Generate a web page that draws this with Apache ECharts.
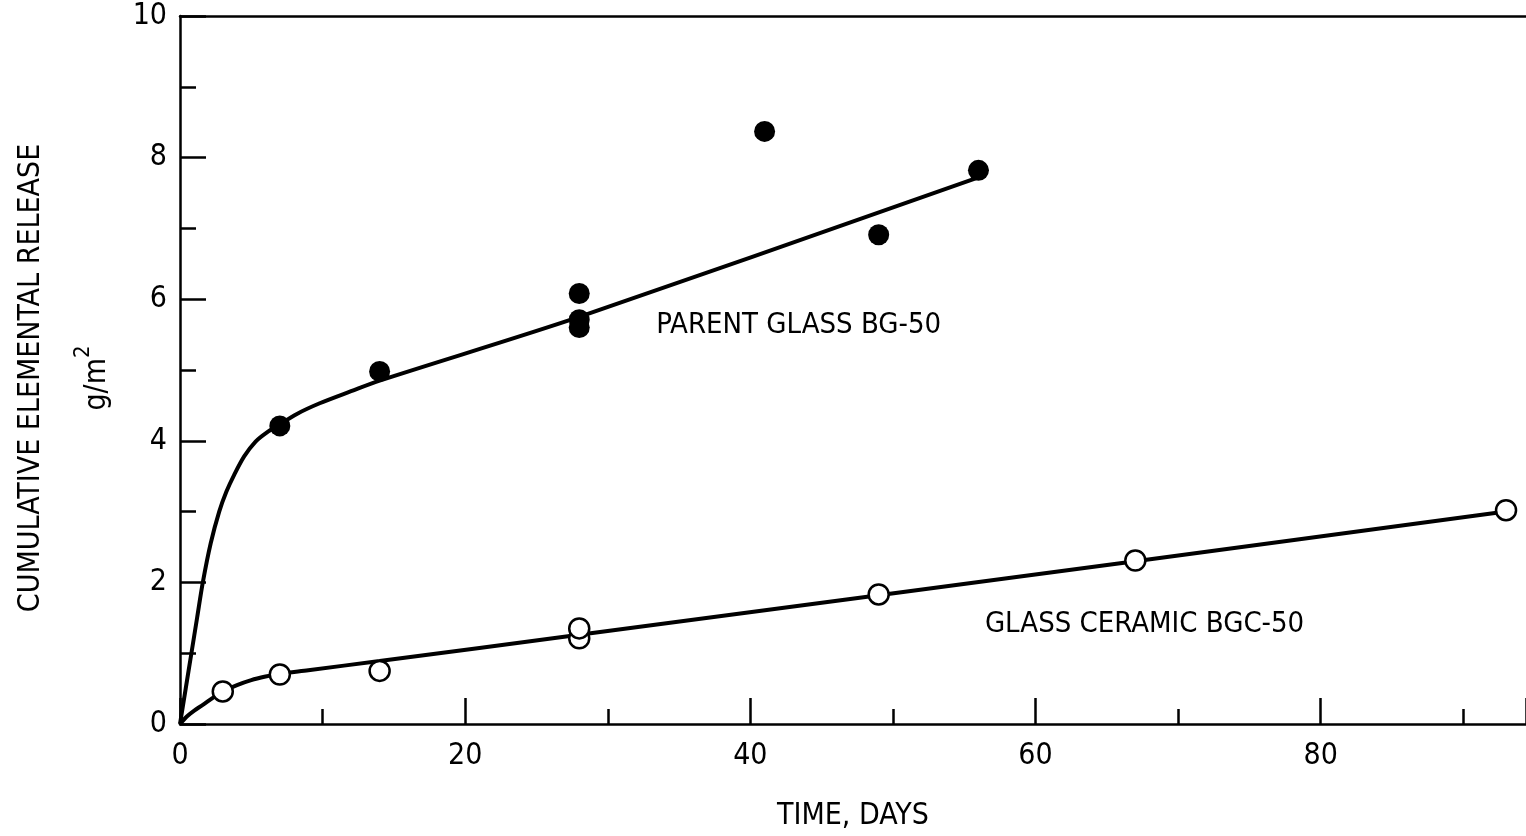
<!DOCTYPE html>
<html>
<head>
<meta charset="utf-8">
<script src="https://cdn.jsdelivr.net/npm/echarts@6/dist/echarts.min.js"></script>
<style>
html,body{margin:0;padding:0;background:#fff;}
#chart{width:1526px;height:836px;}
</style>
</head>
<body>
<div id="chart"></div>
<script>
// ---- data ----
const parentDays   = [7, 14, 28, 28, 28, 41, 49, 56];
const parentValues = [4.21, 4.98, 6.08, 5.71, 5.60, 8.37, 6.91, 7.82];
const ceramicDays   = [3, 7, 14, 28, 28, 49, 67, 93];
const ceramicValues = [0.46, 0.70, 0.75, 1.21, 1.35, 1.83, 2.31, 3.02];
// fitted curves as drawn in the reference
const parentCurveDays   = [0, 0.4, 0.8, 1.2, 1.6, 2.15, 2.75, 3.25, 3.8, 4.5, 5.3, 6.1, 6.9, 8.2, 9.8, 12, 14, 28, 56];
const parentCurveValues = [0, 0.5, 1.0, 1.5, 2.0, 2.55, 3.0, 3.28, 3.52, 3.78, 3.99, 4.12, 4.22, 4.38, 4.53, 4.7, 4.85, 5.75, 7.72];
const ceramicCurveDays   = [0, 0.5, 1, 1.6, 2.3, 3, 4, 5, 6, 7, 9, 14, 28, 49, 67, 93];
const ceramicCurveValues = [0, 0.11, 0.19, 0.27, 0.37, 0.46, 0.55, 0.62, 0.67, 0.71, 0.76, 0.89, 1.26, 1.82, 2.3, 3.0];
const xTickLabels = ['0', '20', '40', '60', '80'];
const yTickLabels = ['0', '2', '4', '6', '8', '10'];
const parentLabel = 'PARENT GLASS BG-50';
const ceramicLabel = 'GLASS CERAMIC BGC-50';
const xTitle = 'TIME, DAYS';
const yTitle = 'CUMULATIVE ELEMENTAL RELEASE';

const zip = (a, b) => a.map((v, i) => [v, b[i]]);
const FONT = '"Liberation Sans Narrow", "DejaVu Sans Condensed", "Liberation Sans", sans-serif';

const chart = echarts.init(document.getElementById('chart'), null, {renderer: 'canvas'});
chart.setOption({
  animation: false,
  backgroundColor: '#fff',
  grid: {left: 180, right: 0, top: 16, bottom: 109, containLabel: false},
  xAxis: [{
    type: 'value', min: 0, max: 94.4, interval: 20,
    axisLine: {show: true, lineStyle: {color: '#000', width: 2.5}},
    axisTick: {show: true, inside: true, length: 26, lineStyle: {color: '#000', width: 2.5}},
    minorTick: {show: true, splitNumber: 2, length: 15, lineStyle: {color: '#000', width: 2.5}},
    splitLine: {show: false},
    axisLabel: {
      margin: 17, color: '#000', fontFamily: FONT, fontSize: 30, showMaxLabel: false,
      formatter: v => xTickLabels.includes(String(v)) ? String(v) : ''
    },
    name: xTitle, nameLocation: 'middle', nameGap: 77,
    nameTextStyle: {color: '#000', fontFamily: FONT, fontSize: 30}
  }, {
    type: 'value', position: 'top', min: 0, max: 94.4,
    axisLine: {show: true, onZero: false, lineStyle: {color: '#000', width: 2.5}},
    axisTick: {show: false}, axisLabel: {show: false}, splitLine: {show: false}
  }],
  yAxis: {
    type: 'value', min: 0, max: 10, interval: 2,
    axisLine: {show: true, lineStyle: {color: '#000', width: 2.5}},
    axisTick: {show: true, inside: true, length: 26, lineStyle: {color: '#000', width: 2.5}},
    minorTick: {show: true, splitNumber: 2, length: 16, lineStyle: {color: '#000', width: 2.5}},
    splitLine: {show: false},
    axisLabel: {
      margin: 13, color: '#000', fontFamily: FONT, fontSize: 30,
      formatter: v => yTickLabels.includes(String(v)) ? String(v) : ''
    }
  },
  graphic: [{
    type: 'text', x: 31, y: 378, rotation: Math.PI / 2,
    style: {text: yTitle, fontFamily: FONT, fontSize: 30, fill: '#000', align: 'center', verticalAlign: 'middle'}
  }, {
    type: 'text', x: 92, y: 378, rotation: Math.PI / 2,
    style: {
      text: '{b|g/m}{s|2}', align: 'center', verticalAlign: 'middle',
      rich: {
        b: {fontFamily: FONT, fontSize: 30, fill: '#000', verticalAlign: 'bottom', lineHeight: 40},
        s: {fontFamily: FONT, fontSize: 22, fill: '#000', verticalAlign: 'top', lineHeight: 40}
      }
    }
  }],
  series: [{
    type: 'line', xAxisIndex: 0, data: zip(parentCurveDays, parentCurveValues),
    smooth: 0.3, showSymbol: false, symbol: 'none',
    lineStyle: {color: '#000', width: 4}, z: 2
  }, {
    type: 'line', xAxisIndex: 0, data: zip(ceramicCurveDays, ceramicCurveValues),
    smooth: 0.3, showSymbol: false, symbol: 'none',
    lineStyle: {color: '#000', width: 4}, z: 2
  }, {
    type: 'scatter', xAxisIndex: 0, data: zip(parentDays, parentValues),
    symbol: 'circle', symbolSize: 21, itemStyle: {color: '#000', opacity: 1}, z: 3
  }, {
    type: 'scatter', xAxisIndex: 0, data: zip(ceramicDays, ceramicValues),
    symbol: 'circle', symbolSize: 20,
    itemStyle: {color: '#fff', borderColor: '#000', borderWidth: 2.5, opacity: 1}, z: 3
  }, {
    type: 'scatter', xAxisIndex: 0, symbolSize: 0, silent: true,
    itemStyle: {opacity: 1},
    data: [
      {value: [33.4, 5.63], label: {formatter: parentLabel}},
      {value: [56.45, 1.41], label: {formatter: ceramicLabel}}
    ],
    label: {show: true, position: 'right', distance: 0, color: '#000', fontFamily: FONT, fontSize: 29}
  }]
});
</script>
</body>
</html>
